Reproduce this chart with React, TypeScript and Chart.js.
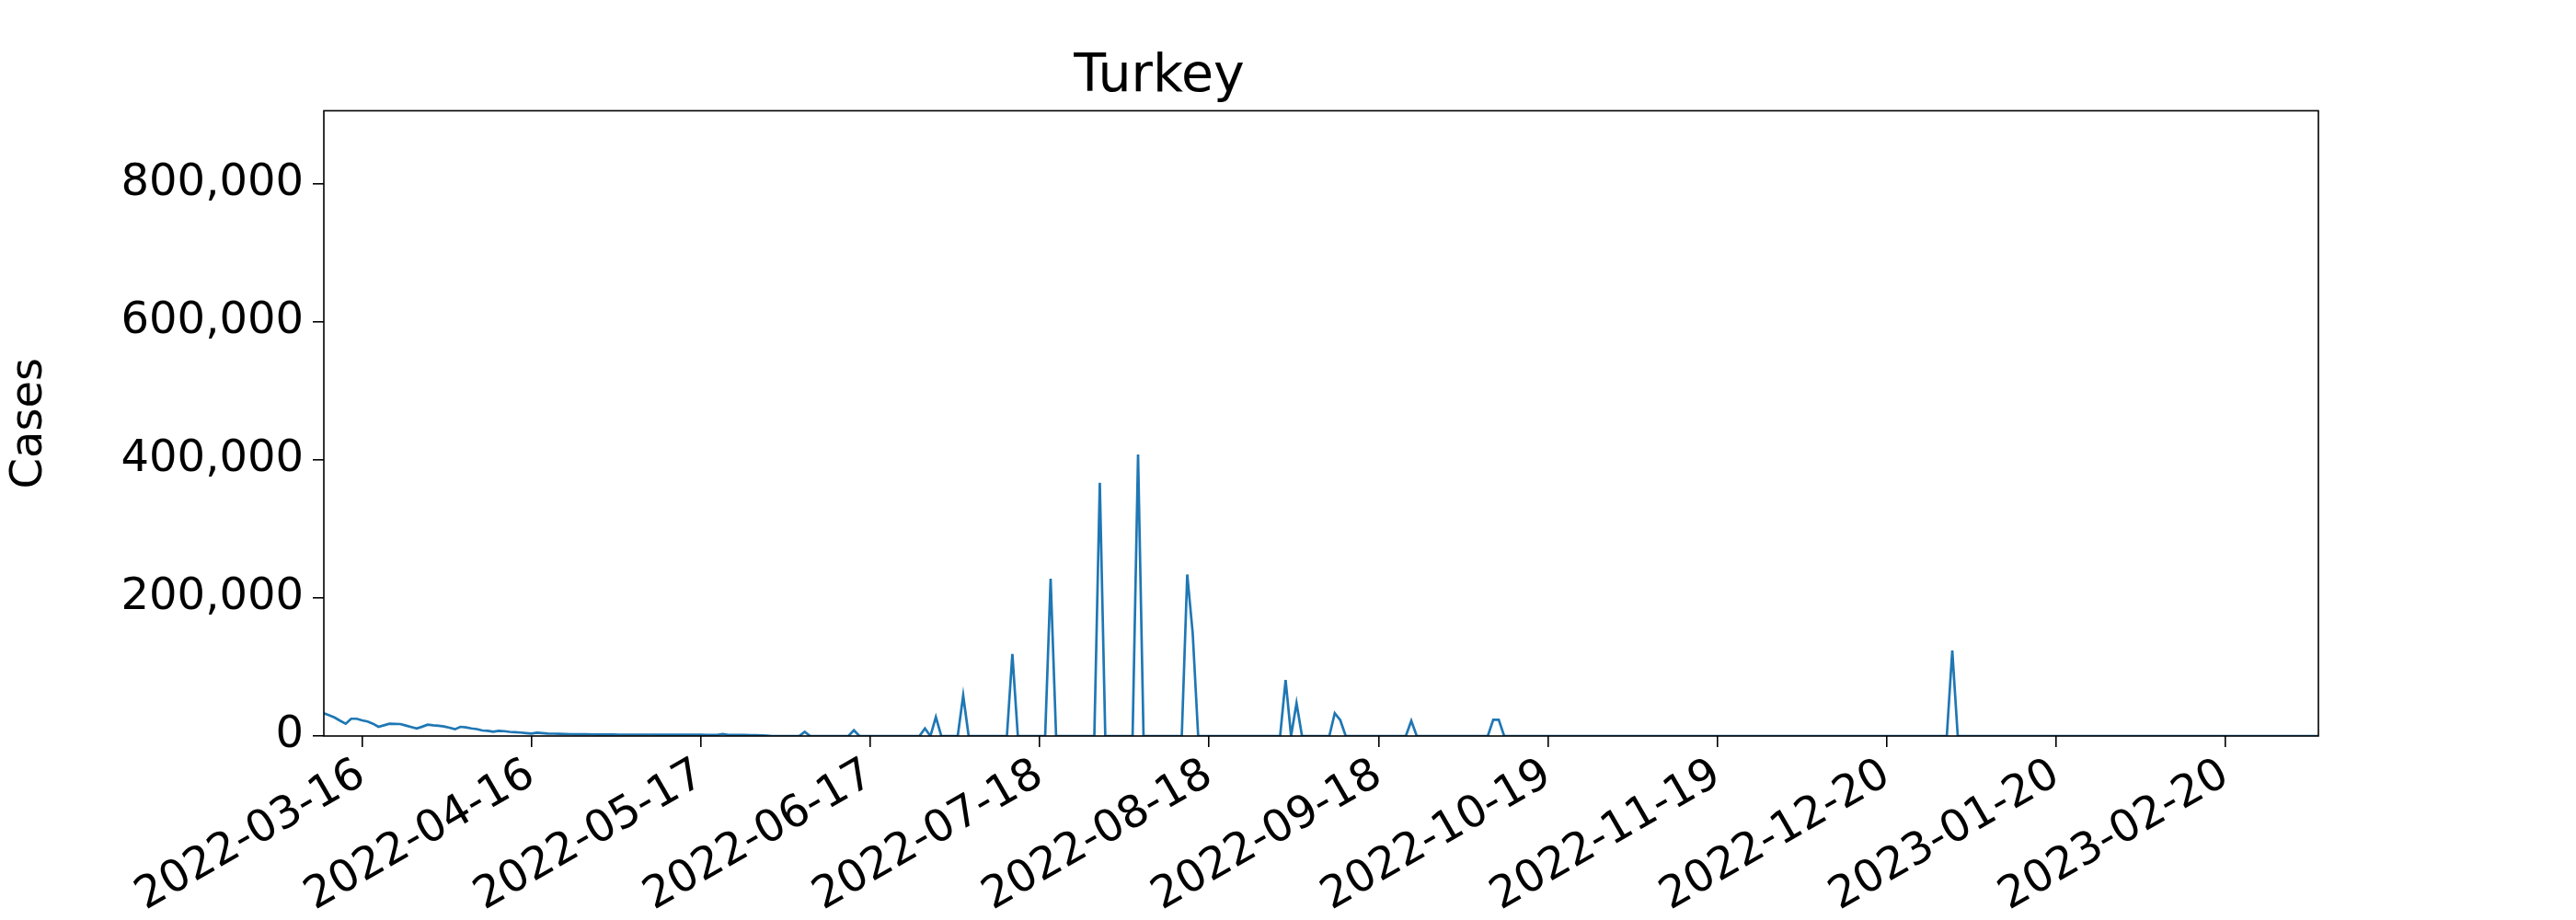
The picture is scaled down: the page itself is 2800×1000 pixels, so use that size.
import React, { useEffect, useRef } from "react";
import Chart from "chart.js/auto";

// first day shown on the axis
const startDate = Date.UTC(2022, 2, 9);
const dayCount = 366;

// daily reports from 2022-03-09 until reporting went weekly (early June)
const earlyCases: number[] = [
  33000, 30000, 26700, 22000, 17800, 25000, 25000, 22700, 21000, 17800,
  13300, 15500, 17800, 17600, 17300, 15100, 13000, 11000, 13500, 16400,
  15500, 14800, 13800, 12000, 9800, 13300, 12500, 11000, 10000, 8000,
  7500, 6200, 7500, 7000, 6000, 5600, 5000, 4200, 3500, 4800,
  4200, 3500, 3300, 3100, 2900, 2700, 2600, 2500, 2400, 2300,
  2200, 2200, 2100, 2100, 2000, 2000, 2000, 2000, 2000, 2000,
  2000, 1900, 1900, 1900, 1800, 1800, 1800, 1700, 1700, 1700,
  1600, 1600, 1600, 3000, 1500, 1500, 1500, 1400, 1300, 1200,
  1000, 500, 0, 0,
];

// later, sparse batches
const spikeDates: string[] = [
  "2022-06-05", "2022-06-14", "2022-06-27", "2022-06-29", "2022-07-04",
  "2022-07-13", "2022-07-20", "2022-07-29", "2022-08-05", "2022-08-14",
  "2022-08-15", "2022-09-01", "2022-09-03", "2022-09-10", "2022-09-11",
  "2022-09-24", "2022-10-09", "2022-10-10", "2023-01-01",
];
const spikeCases: number[] = [
  6000, 8400, 11000, 27600, 58700,
  118700, 228000, 367000, 408000, 234000,
  149000, 81000, 47600, 33000, 23000,
  22000, 23600, 23600, 124000,
];

const yTicks: number[] = [0, 200000, 400000, 600000, 800000];
const xTickDays: number[] = [7, 38, 69, 100, 131, 162, 193, 224, 255, 286, 317, 348];

const dayMs = 86400000;
const dayIndex = (iso: string) => Math.round((Date.parse(iso + "T00:00:00Z") - startDate) / dayMs);
const dayLabel = (d: number) => new Date(startDate + d * dayMs).toISOString().slice(0, 10);

const points: { x: number; y: number }[] = [];
for (let d = 0; d < dayCount; d++) {
  points.push({ x: d, y: d < earlyCases.length ? earlyCases[d] : 0 });
}
spikeDates.forEach((s, i) => {
  points[dayIndex(s)].y = spikeCases[i];
});

const font = { family: "'DejaVu Sans', sans-serif", size: 48 };

const frame = {
  id: "frame",
  afterDatasetsDraw(chart: Chart) {
    const { ctx, chartArea: a } = chart;
    ctx.save();
    ctx.strokeStyle = "#000";
    ctx.lineWidth = 1.6;
    ctx.strokeRect(a.left, a.top, a.right - a.left, a.bottom - a.top);
    ctx.restore();
  },
};

const App: React.FC = () => {
  const canvasRef = useRef<HTMLCanvasElement>(null);

  useEffect(() => {
    document.body.style.margin = "0";
    if (!canvasRef.current) return;
    const chart = new Chart(canvasRef.current, {
      type: "line",
      data: {
        datasets: [
          {
            label: "Cases",
            data: points,
            borderColor: "#1f77b4",
            borderWidth: 2.7,
            pointRadius: 0,
            tension: 0,
          },
        ],
      },
      options: {
        animation: false,
        responsive: false,
        layout: { padding: { right: 280, left: 0, bottom: 0 } },
        plugins: {
          legend: { display: false },
          tooltip: { enabled: false },
          title: {
            display: true,
            text: "Turkey",
            color: "#000",
            font: { family: font.family, size: 57, weight: "normal" },
            padding: { top: 50, bottom: 2 },
          },
        },
        scales: {
          x: {
            type: "linear",
            min: 0,
            max: dayCount - 1,
            afterBuildTicks: (scale: any) => {
              scale.ticks = xTickDays.map((v) => ({ value: v }));
            },
            afterFit: (scale: any) => {
              scale.height = 200;
            },
            ticks: {
              callback: (v: any) => dayLabel(Number(v)),
              color: "#000",
              font,
              minRotation: 30,
              maxRotation: 30,
              autoSkip: false,
              padding: 2,
            },
            grid: { drawOnChartArea: false, color: "#000", tickLength: 12, lineWidth: 1.6 },
            border: { display: false },
          },
          y: {
            min: 0,
            max: 906000,
            afterBuildTicks: (scale: any) => {
              scale.ticks = yTicks.map((v) => ({ value: v }));
            },
            afterFit: (scale: any) => {
              scale.width = 352;
            },
            title: { display: true, text: "Cases", color: "#000", font, padding: { bottom: 10 } },
            ticks: { color: "#000", font, padding: 10 },
            grid: { drawOnChartArea: false, color: "#000", tickLength: 12, lineWidth: 1.6 },
            border: { display: false },
          },
        },
      },
      plugins: [frame],
    });
    return () => chart.destroy();
  }, []);

  return (
    <div style={{ width: 2800, height: 1000 }}>
      <canvas ref={canvasRef} width={2800} height={1000} />
    </div>
  );
};

export default App;
